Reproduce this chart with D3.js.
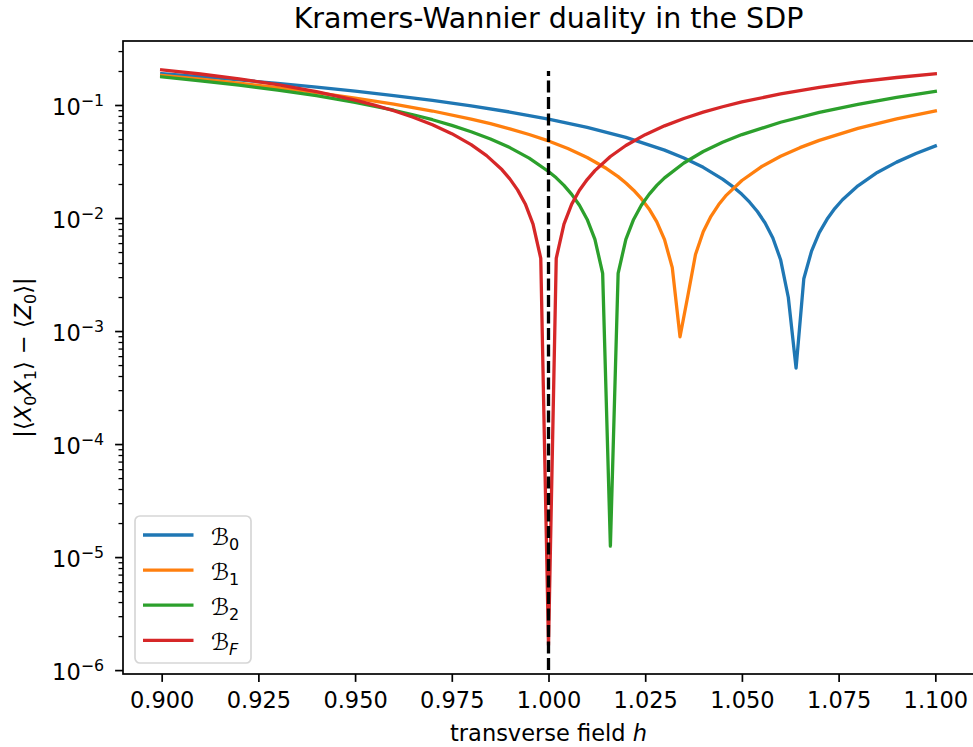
<!DOCTYPE html>
<html>
<head>
<meta charset="utf-8">
<script src="https://cdn.jsdelivr.net/npm/d3@7"></script>
<style>
  body { margin: 0; background: #fff; overflow: hidden; }
  svg { display: block; }
  text { font-family: "DejaVu Sans", sans-serif; fill: #000; }
</style>
</head>
<body>
<svg id="chart"></svg>
<script>
/* data */
var seriesSubs = ["0", "1", "2", "F"];            // legend: calligraphic B with these subscripts
var seriesColors = ["#1f77b4", "#ff7f0e", "#2ca02c", "#d62728"];

var hB0 = [0.90,0.91,0.92,0.93,0.94,0.95,0.96,0.97,0.98,0.99,1.00,1.01,1.02,1.03,1.035,1.04,1.045,1.048,1.05,
           1.052,1.054,1.056,1.058,1.060,1.062,1.064,1.066,1.068,1.070,1.072,1.074,1.076,1.08,1.085,1.09,1.095,1.10];
var valB0 = [0.189,0.178,0.1666,0.1553,0.144,0.1326,0.1212,0.1097,0.0982,0.0867,0.075,0.0634,0.0517,0.0399,0.034,0.0281,0.0221,0.01856,0.0162,
             0.0138,0.01142,0.00904,0.00666,0.00428,0.00198,0.00047,0.0029,0.0051,0.00742,0.00974,0.01212,0.01451,0.01927,0.0253,0.03123,0.03724,0.0434];

var hB1 = [0.90,0.91,0.92,0.93,0.94,0.95,0.96,0.97,0.98,0.985,0.99,0.995,1.00,1.005,1.01,1.015,1.018,1.02,
           1.022,1.024,1.026,1.028,1.030,1.032,1.034,1.036,1.038,1.040,1.042,1.044,1.046,
           1.05,1.055,1.06,1.065,1.07,1.08,1.09,1.10];
var valB1 = [0.1831,0.1695,0.1559,0.1423,0.1287,0.1152,0.1018,0.0885,0.0751,0.06835,0.0615,0.05485,0.0481,0.0412,0.0343,0.0274,0.02324,0.0204,
             0.01764,0.01484,0.01204,0.00924,0.00644,0.00364,0.00089,0.00203,0.00476,0.00756,0.01036,0.01316,0.01596,
             0.02148,0.0284,0.03518,0.04195,0.04868,0.06211,0.07534,0.0885];

var hB2 = [0.90,0.91,0.92,0.93,0.94,0.95,0.96,0.965,0.97,0.975,0.98,0.985,0.99,0.995,1.00,
           1.002,1.004,1.006,1.008,1.010,1.012,1.014,1.016,1.018,1.020,1.022,1.024,1.026,1.028,1.030,
           1.035,1.04,1.045,1.05,1.06,1.07,1.08,1.09,1.10];
var valB2 = [0.1775,0.1638,0.1498,0.1355,0.1208,0.1056,0.0899,0.082,0.0741,0.066,0.058,0.05,0.042,0.0339,0.0258,
             0.02268,0.01944,0.0162,0.01296,0.00972,0.00648,0.00324,0.0000125,0.00324,0.00648,0.00972,0.01296,0.0162,0.01944,0.02268,
             0.0307,0.03876,0.04675,0.05474,0.0704,0.0861,0.1014,0.1168,0.1319];

var hBF = [0.90,0.91,0.92,0.93,0.94,0.95,0.955,0.96,0.965,0.97,0.975,0.98,0.984,0.988,0.99,0.992,0.994,0.996,0.998,1.000,
           1.002,1.004,1.006,1.008,1.01,1.012,1.016,1.02,1.025,1.03,1.035,1.04,1.045,1.05,1.06,1.07,1.08,1.09,1.10];
var valBF = [0.205,0.1881,0.1704,0.1512,0.1314,0.1105,0.0998,0.089,0.078,0.0669,0.05575,0.0446,0.03565,0.0267,0.0222,0.01776,0.01332,0.00884,0.0044,0.00000166,
             0.0044,0.00884,0.01326,0.0176,0.0219,0.02628,0.03504,0.0438,0.05463,0.0654,0.07595,0.0864,0.09653,0.1065,0.1254,0.1435,0.16,0.1751,0.189];

var xTicks = [0.900, 0.925, 0.950, 0.975, 1.000, 1.025, 1.050, 1.075, 1.100];
var yTicks = [1e-6, 1e-5, 1e-4, 1e-3, 1e-2, 1e-1];
var criticalH = 1.0, criticalRange = [1e-6, 0.2];   // dashed marker at h = 1

var chartTitle = "Kramers-Wannier duality in the SDP";

/* settings */
var width = 973, height = 747,
    margin = { top: 41, left: 123 },
    innerWidth = 851,
    innerHeight = 633,
    tickFont = 22.5;

var hs = [hB0, hB1, hB2, hBF], vals = [valB0, valB1, valB2, valBF];
var datalines = hs.map(function(h, i) {
  return { sub: seriesSubs[i], color: seriesColors[i],
           values: h.map(function(d, j) { return { h: d, v: vals[i][j] }; }) };
});

/* scales, padded 5% like matplotlib autoscale */
var allH = d3.merge(hs), allV = d3.merge(vals);
var hExt = d3.extent(allH), hPad = (hExt[1] - hExt[0]) * 0.05;
var lExt = d3.extent(allV).map(Math.log10), lPad = (lExt[1] - lExt[0]) * 0.05;

var xScale = d3.scaleLinear().domain([hExt[0] - hPad, hExt[1] + hPad]).range([0, innerWidth]);
var yScale = d3.scaleLog().domain([Math.pow(10, lExt[0] - lPad), Math.pow(10, lExt[1] + lPad)]).range([innerHeight, 0]);

var svg = d3.select("#chart").attr("width", width).attr("height", height);
var g = svg.append("g").attr("transform", "translate(" + margin.left + "," + margin.top + ")");

/* lines */
var line = d3.line()
  .x(function(d) { return xScale(d.h); })
  .y(function(d) { return yScale(d.v); });

g.selectAll(".series").data(datalines).enter()
  .append("path")
    .attr("class", "series")
    .attr("fill", "none")
    .attr("stroke", function(d) { return d.color; })
    .attr("stroke-width", 3.3)
    .attr("stroke-linejoin", "round")
    .attr("stroke-linecap", "square")
    .attr("d", function(d) { return line(d.values); });

/* dashed line at the self-dual point */
g.append("line")
  .attr("x1", xScale(criticalH)).attr("x2", xScale(criticalH))
  .attr("y1", yScale(criticalRange[0])).attr("y2", yScale(criticalRange[1]))
  .attr("stroke", "#000")
  .attr("stroke-width", 3.3)
  .attr("stroke-dasharray", "12,4.5");

/* x-axis */
var xAxisG = g.append("g")
  .attr("transform", "translate(0," + innerHeight + ")")
  .call(d3.axisBottom(xScale).tickValues(xTicks).tickFormat(d3.format(".3f")).tickSize(7.9).tickPadding(10));
xAxisG.select(".domain").remove();
xAxisG.selectAll(".tick line").attr("stroke-width", 1.7);
xAxisG.selectAll(".tick text").attr("font-size", tickFont).attr("font-family", "DejaVu Sans");

/* y-axis: major + minor log ticks */
var yAxisG = g.append("g")
  .call(d3.axisLeft(yScale).tickValues(yTicks).tickFormat("").tickSize(7.9));
yAxisG.select(".domain").remove();
yAxisG.selectAll(".tick line").attr("stroke-width", 1.7);

var minorTicks = [];
for (var e = -7; e <= 0; e++) {
  for (var m = 2; m <= 9; m++) {
    var t = m * Math.pow(10, e);
    if (t > yScale.domain()[0] && t < yScale.domain()[1]) minorTicks.push(t);
  }
}
var yMinorG = g.append("g")
  .call(d3.axisLeft(yScale).tickValues(minorTicks).tickFormat("").tickSize(4.5));
yMinorG.select(".domain").remove();
yMinorG.selectAll(".tick line").attr("stroke-width", 1.3);

var yLabels = g.append("g").selectAll("text").data(yTicks).enter()
  .append("text")
    .attr("x", -19)
    .attr("y", function(d) { return yScale(d) + 9.5; })
    .attr("text-anchor", "end")
    .attr("font-size", tickFont);
yLabels.append("tspan").text("10");
yLabels.append("tspan")
  .attr("font-size", 15.8)
  .attr("dy", -9)
  .text(function(d) { return "\u2212" + Math.round(-Math.log10(d)); });

/* spines */
g.append("rect")
  .attr("width", innerWidth).attr("height", innerHeight)
  .attr("fill", "none").attr("stroke", "#000").attr("stroke-width", 1.7);

/* title and axis labels */
svg.append("text")
  .attr("x", margin.left + innerWidth / 2).attr("y", 28)
  .attr("text-anchor", "middle").attr("font-size", 28.5)
  .text(chartTitle);

var xLab = svg.append("text")
  .attr("x", margin.left + innerWidth / 2).attr("y", 741)
  .attr("text-anchor", "middle").attr("font-size", tickFont);
xLab.append("tspan").text("transverse field ");
xLab.append("tspan").attr("font-style", "italic").text("h");

var yLab = svg.append("text")
  .attr("transform", "translate(31," + (margin.top + innerHeight / 2) + ") rotate(-90)")
  .attr("text-anchor", "middle").attr("font-size", tickFont);
var yParts = [["|\u27E8", 0, ""], ["X", 0, "italic"], ["0", 5, ""], ["X", -5, "italic"], ["1", 5, ""],
              ["\u27E9 \u2212 \u27E8", -5, ""], ["Z", 0, "italic"], ["0", 5, ""], ["\u27E9|", -5, ""]];
yParts.forEach(function(p) {
  var sub = p[1] > 0;
  yLab.append("tspan")
    .attr("dy", p[1])
    .attr("font-size", sub ? 16 : tickFont)
    .attr("font-style", p[2] || null)
    .text(p[0]);
});

/* legend */
var legend = svg.append("g").attr("transform", "translate(135,516)");
legend.append("rect")
  .attr("width", 116).attr("height", 147).attr("rx", 5)
  .attr("fill", "#fff").attr("fill-opacity", 0.8)
  .attr("stroke", "#d6d6d6").attr("stroke-width", 1.7);

var cells = legend.selectAll(".cell").data(datalines).enter()
  .append("g")
    .attr("class", "cell")
    .attr("transform", function(d, i) { return "translate(0," + (19 + i * 35.1) + ")"; });
cells.append("line")
  .attr("x1", 8).attr("x2", 58.5)
  .attr("stroke", function(d) { return d.color; })
  .attr("stroke-width", 3.3);
var cellText = cells.append("text")
  .attr("x", 76).attr("y", 10)
  .attr("font-size", 23);
cellText.append("tspan").text("\u212C");
cellText.append("tspan")
  .attr("dy", 5).attr("font-size", 16)
  .attr("font-style", function(d) { return d.sub === "F" ? "italic" : null; })
  .text(function(d) { return d.sub; });
</script>
</body>
</html>
